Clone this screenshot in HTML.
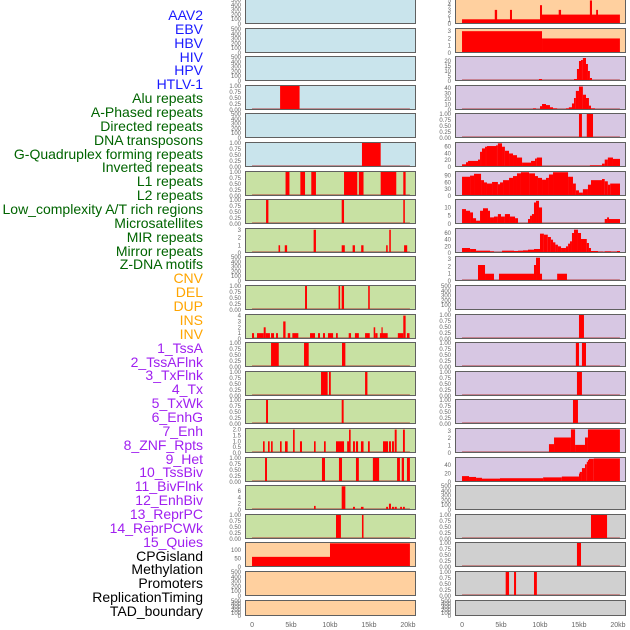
<!DOCTYPE html>
<html><head><meta charset="utf-8"><style>
html,body{margin:0;padding:0;background:#fff;}
#wrap{position:relative;width:630px;height:630px;overflow:hidden;font-family:"Liberation Sans",sans-serif;}
.lab{position:absolute;right:427px;font-size:14px;line-height:14px;white-space:nowrap;}
</style></head><body>
<div id="wrap">
<div id="labels"></div>
<svg id="svg" width="630" height="630"></svg>
</div>
<script>
const labelNames = ["AAV2","EBV","HBV","HIV","HPV","HTLV-1","Alu repeats","A-Phased repeats","Directed repeats","DNA transposons","G-Quadruplex forming repeats","Inverted repeats","L1 repeats","L2 repeats","Low_complexity A/T rich regions","Microsatellites","MIR repeats","Mirror repeats","Z-DNA motifs","CNV","DEL","DUP","INS","INV","1_TssA","2_TssAFlnk","3_TxFlnk","4_Tx","5_TxWk","6_EnhG","7_Enh","8_ZNF_Rpts","9_Het","10_TssBiv","11_BivFlnk","12_EnhBiv","13_ReprPC","14_ReprPCWk","15_Quies","CPGisland","Methylation","Promoters","ReplicationTiming","TAD_boundary"];
const labelColors = ["#1a1aff","#006400","#ffa500","#a020f0","#000000"];
const labelGroup = [0,0,0,0,0,0,1,1,1,1,1,1,1,1,1,1,1,1,1,2,2,2,2,2,3,3,3,3,3,3,3,3,3,3,3,3,3,3,3,4,4,4,4,4];
const bgColors = ["#c9e4ec","#c8e1a3","#ffd09f","#d7c7e3","#d0d0d0"];
const xTicks = [0,5,10,15,20];
const xTickLabels = ["0","5kb","10kb","15kb","20kb"];
const B=[0,0.25,0.5,0.75,1], E=[0,100,200,300,400,500];
// left column tracks: segments [startKb,endKb,value]
const L01=[],L02=[],L03=[],L05=[],L10=[],L21=[],L22=[];
const L04=[[3.6,6.1,1]];
const L06=[[14.1,16.5,1]];
const L07=[[4.3,4.8,1],[6.2,6.8,1],[7.6,8.2,1],[11.8,13.5,1],[13.7,14.3,1],[16.5,18.5,1],[19.4,19.7,1]];
const L08=[[1.8,2.1,1],[11.5,11.8,1],[19.4,19.6,1]];
const L09=[[3.4,3.6,1],[4.2,4.5,1],[7.9,8.2,3],[11.5,11.9,1],[12.9,13.2,1],[14.0,14.3,1],[17.2,17.4,1],[17.6,17.8,3],[19.5,19.9,1]];
const L11=[[6.8,7.05,1],[11.1,11.3,1],[11.5,11.8,1],[14.9,15.1,1]];
const L12=[[0,0.26,1],[0.64,1.5,1],[1.5,1.75,2],[1.75,2.3,1],[2.44,2.82,1],[3.08,3.33,1],[4.0,4.3,3],[4.58,4.9,1],[5.17,5.94,1],[7.44,8.08,1],[8.46,8.72,1],[9.1,9.36,1],[9.74,10.4,1],[10.77,11.0,1],[12.4,12.7,1],[13.2,13.7,1],[14.5,15.1,1],[15.6,15.8,2],[15.8,16.1,1],[16.4,17.4,1],[16.6,16.75,2],[18.7,19.4,1],[19.4,19.7,4],[19.87,20.2,1]];
const L13=[[2.44,3.43,1],[6.67,7.27,1],[11.54,11.97,1]];
const L14=[[8.85,9.7,1],[9.87,10.1,1],[14.5,14.8,1]];
const L15=[[1.8,2.05,1],[11.5,11.75,1]];
const L16=[[1.41,1.62,1],[2.05,2.26,1],[2.44,2.65,1],[3.59,3.8,1],[4.23,4.57,1],[5.26,5.47,2],[6.15,6.41,1],[7.95,8.16,1],[9.23,9.45,1],[10.77,11.8,1],[12.2,12.44,1],[12.44,12.65,2],[12.95,13.2,1],[13.33,13.6,1],[13.97,14.3,1],[14.87,15.1,1],[16.8,17.44,1],[17.56,17.82,1],[17.95,18.2,1],[18.3,18.55,2],[19.36,19.6,2]];
const L17=[[1.67,1.92,1],[8.97,9.36,1],[11.15,11.54,1],[13.33,13.7,1],[15.5,16.3,1],[18.6,18.97,1],[19.2,19.49,1],[19.87,20.25,1]];
const L18=[[7.95,8.16,1.3],[11.5,11.97,7.5],[12.95,13.2,1],[13.97,14.3,1],[17.2,17.44,1],[17.56,17.82,2],[17.95,18.2,1],[18.3,18.56,1],[19.0,19.23,1],[19.36,19.6,1]];
const L19=[[10.77,11.4,1],[14.1,14.3,1]];
const L20=[[0,10.0,60],[10.0,20.25,140]];
// right column tracks
const R11=[],R18=[],R22=[];
const R01=[[0,10,1],[10,20.25,2],[4.2,4.5,3],[6.15,6.41,3],[10,10.26,4],[12.4,12.7,3],[16.4,16.67,5],[17.2,17.44,3]];
const R02=[[0,10.26,3],[10.26,20.25,2]];
const R03=[[9.87,10.26,2],[14.36,14.74,2],[14.74,15.0,12],[15.0,15.26,20],[15.26,15.5,21],[15.5,15.9,23],[15.9,16.15,17],[16.15,16.4,10],[16.4,16.67,3]];
const R04=[[9.1,9.49,3],[10.0,10.26,7],[10.26,10.77,11],[10.77,11.28,9],[11.28,11.67,5],[11.67,12.2,3],[13.33,13.7,3],[13.7,14.1,5],[14.1,14.36,12],[14.36,14.6,22],[14.6,15.0,35],[15.0,15.5,43],[15.5,15.9,28],[15.9,16.28,22],[16.28,16.54,8],[16.54,17.05,3]];
const R05=[[15.0,15.38,1],[16.0,16.8,1]];
const R06=[[0,0.51,8],[0.51,0.77,14],[0.77,2.05,18],[2.05,2.31,22],[2.31,2.56,45],[2.56,2.95,55],[2.95,3.2,60],[3.2,4.36,62],[4.36,4.6,64],[4.6,5.13,70],[5.13,5.5,60],[5.5,6.03,48],[6.03,6.54,40],[6.54,7.05,35],[7.05,7.7,28],[7.7,8.85,13],[8.85,9.36,18],[9.36,9.6,25],[9.6,10.26,28],[16.4,17.95,5],[17.95,18.3,10],[18.3,18.7,22],[18.7,19.36,28],[19.36,20.26,24]];
const R07=[[0,1.03,85],[1.03,1.54,90],[1.54,2.44,98],[2.44,2.82,70],[2.82,3.2,60],[3.2,3.85,55],[3.85,4.6,62],[4.6,4.87,52],[4.87,5.26,60],[5.26,6.03,70],[6.03,6.54,80],[6.54,7.05,88],[7.05,7.56,100],[7.56,8.6,105],[8.6,9.36,100],[9.36,9.74,88],[9.74,10.26,80],[10.26,10.77,72],[10.77,11.15,80],[11.15,11.67,95],[11.67,13.6,105],[13.6,14.23,85],[14.23,14.6,55],[14.6,15.0,25],[15.0,15.5,15],[15.5,16.15,30],[16.15,16.54,50],[16.54,17.95,70],[17.95,18.3,75],[18.3,18.7,65],[18.7,19.0,50],[19.0,20.26,55]];
const R08=[[0,0.51,9],[0.51,1.03,8],[1.03,1.41,7],[1.41,1.8,3.5],[1.8,2.31,2],[2.31,2.69,8],[2.69,3.33,9.5],[3.33,3.59,8],[3.59,4.1,4],[4.1,4.6,4.5],[4.6,5.0,6],[5.0,5.5,4.5],[5.5,6.15,6],[6.15,6.8,4.5],[6.8,7.18,3.5],[8.46,8.72,3],[8.72,8.97,5],[8.97,9.23,6],[9.23,9.49,13],[9.49,9.87,14],[9.87,10.26,10],[18.3,18.6,3],[18.6,18.85,4],[18.85,20.26,3]];
const R09=[[0,1.03,15],[1.03,1.8,12],[1.8,3.59,7],[3.59,4.1,5],[5.13,6.67,7],[6.67,7.18,6],[7.18,7.82,7],[7.82,8.46,8],[8.46,9.23,10],[9.23,10.0,12],[10.0,10.5,58],[10.5,11.0,55],[11.0,11.4,48],[11.4,11.67,40],[11.67,11.97,32],[11.97,12.3,25],[12.3,12.7,20],[12.7,13.33,15],[13.33,13.6,20],[13.6,13.85,28],[13.85,14.1,35],[14.1,14.36,60],[14.36,14.87,70],[14.87,15.26,60],[15.26,16.0,42],[16.0,16.28,30],[16.28,16.54,15],[16.54,17.44,6],[17.44,18.08,4],[18.08,18.3,2],[18.3,19.1,5],[19.1,19.87,4],[19.87,20.26,6]];
const R10=[[2.05,2.95,2.2],[2.95,4.1,1],[4.74,9.23,1],[9.23,9.49,2.2],[9.49,10.0,3.2],[10.0,10.26,1],[12.2,13.46,1]];
const R12=[[15.0,15.64,1]];
const R13=[[14.6,15.0,1],[15.38,15.9,1]];
const R14=[[14.74,15.38,1]];
const R15=[[14.23,14.87,1]];
const R16=[[11.15,11.8,1.2],[11.8,13.97,2.1],[13.97,14.5,3.2],[14.5,15.77,1.1],[15.77,16.15,2.1],[16.15,20.25,3.2]];
const R17=[[0,0.9,14],[0.9,1.8,12],[1.8,2.56,10],[2.56,4.87,8],[4.87,10.4,9],[10.4,12.8,11],[12.8,15.0,13],[15.0,15.1,20],[15.1,15.38,24],[15.38,15.77,33],[15.77,16.0,42],[16.0,16.15,48],[16.15,16.28,52],[16.28,16.9,55],[16.9,20.25,56]];
const R19=[[16.54,18.6,1]];
const R20=[[14.74,15.26,1]];
const R21=[[5.6,6.03,1],[6.67,6.93,1],[9.23,9.6,1]];

const leftTracks=[L01,L02,L03,L04,L05,L06,L07,L08,L09,L10,L11,L12,L13,L14,L15,L16,L17,L18,L19,L20,L21,L22];
const rightTracks=[R01,R02,R03,R04,R05,R06,R07,R08,R09,R10,R11,R12,R13,R14,R15,R16,R17,R18,R19,R20,R21,R22];
const leftMax=[500,500,500,1,500,1,1,1,3.1,500,1,4.1,1,1,1,2.05,1,7.6,1,142,500,500];
const rightMax=[5.1,3.3,24,44,1,71,106,14.5,72,3.3,500,1,1,1,1,3.25,57,500,1,1,1,500];
const leftTicks=[E,E,E,B,E,B,B,B,[0,1,2,3],E,B,[0,1,2,3,4],B,B,B,[0,0.5,1,1.5,2],B,[0,2,4,6],B,[0,50,100],E,E];
const rightTicks=[[0,1,2,3,4,5],[0,1,2,3],[0,5,10,15,20],[0,10,20,30,40],B,[0,20,40,60],[0,30,60,90],[0,5,10],[0,20,40,60],[0,1,2,3],E,B,B,B,B,[0,1,2,3],[0,20,40],E,B,B,B,E];
const leftBg=[0,0,0,0,0,0,1,1,1,1,1,1,1,1,1,1,1,1,1,2,2,2];
const rightBg=[2,2,3,3,3,3,3,3,3,3,3,3,3,3,3,3,3,4,4,4,4,4];

const NS="http://www.w3.org/2000/svg";
const svg=document.getElementById('svg');
const X0=-0.9,X1=21.03,PW=171;
function xs(left,kb){return left+(kb-X0)/(X1-X0)*PW;}
function mk(tag,attrs,parent){const e=document.createElementNS(NS,tag);for(const k in attrs)e.setAttribute(k,attrs[k]);(parent||svg).appendChild(e);return e;}
function fmt(t,ticks){if(ticks===B)return t.toFixed(2);if(ticks.indexOf(1.5)>=0)return t.toFixed(1);return String(t);}

// labels
const labDiv=document.getElementById('labels');
labelNames.forEach((n,i)=>{
  const d=document.createElement('div');
  d.className='lab';
  d.style.top=(8+i*13.86)+'px';
  d.style.color=labelColors[labelGroup[i]];
  d.textContent=n;
  
  
  labDiv.appendChild(d);
});

function drawCol(left,tracks,maxes,ticksArr,bgs,side){
  for(let i=0;i<22;i++){
    const top=Math.round(-1+i*28.6);
    const h=(i===21)?16:25;
    const g=mk('g',{});
    
    
    mk('rect',{x:left,y:top,width:PW,height:h,fill:bgColors[bgs[i]]},g);
    const ymax=maxes[i];
    const bot=top+h;
    const ys=v=>bot-v/ymax*(h-1);
    const segs=tracks[i];
    if(segs.length){
      const bl=mk('line',{x1:xs(left,0),x2:xs(left,20.25),y1:bot-1,y2:bot-1,stroke:'#b03030','stroke-width':1.5,'stroke-opacity':0.6},g);
      
      
    }
    segs.forEach(s=>{
      const x=xs(left,s[0]),w=Math.max(1.2,xs(left,s[1])-x);
      const y=Math.max(top,ys(s[2]));
      const r=mk('rect',{x:x,y:y,width:w,height:bot-y,fill:'#ff0000'},g);
      
      
    });
    mk('rect',{x:left+0.5,y:top+0.5,width:PW-1,height:h-1,fill:'none',stroke:'#606060','stroke-width':1},g);
    const tks=ticksArr[i];
    tks.forEach(t=>{
      const ty=ys(t);
      const tx=mk('text',{x:left-4,y:ty+2,'text-anchor':'end','font-size':6,fill:'#666','font-family':'Liberation Sans, sans-serif'},g);
      tx.textContent=fmt(t,tks);
      
      
    });
  }
  xTicks.forEach((t,j)=>{
    const tx=mk('text',{x:xs(left,t),y:627,'text-anchor':'middle','font-size':7,fill:'#666','font-family':'Liberation Sans, sans-serif'});
    tx.textContent=xTickLabels[j];
    
    
  });
}
drawCol(245,leftTracks,leftMax,leftTicks,leftBg,'left');
drawCol(455,rightTracks,rightMax,rightTicks,rightBg,'right');
</script>
</body></html>
